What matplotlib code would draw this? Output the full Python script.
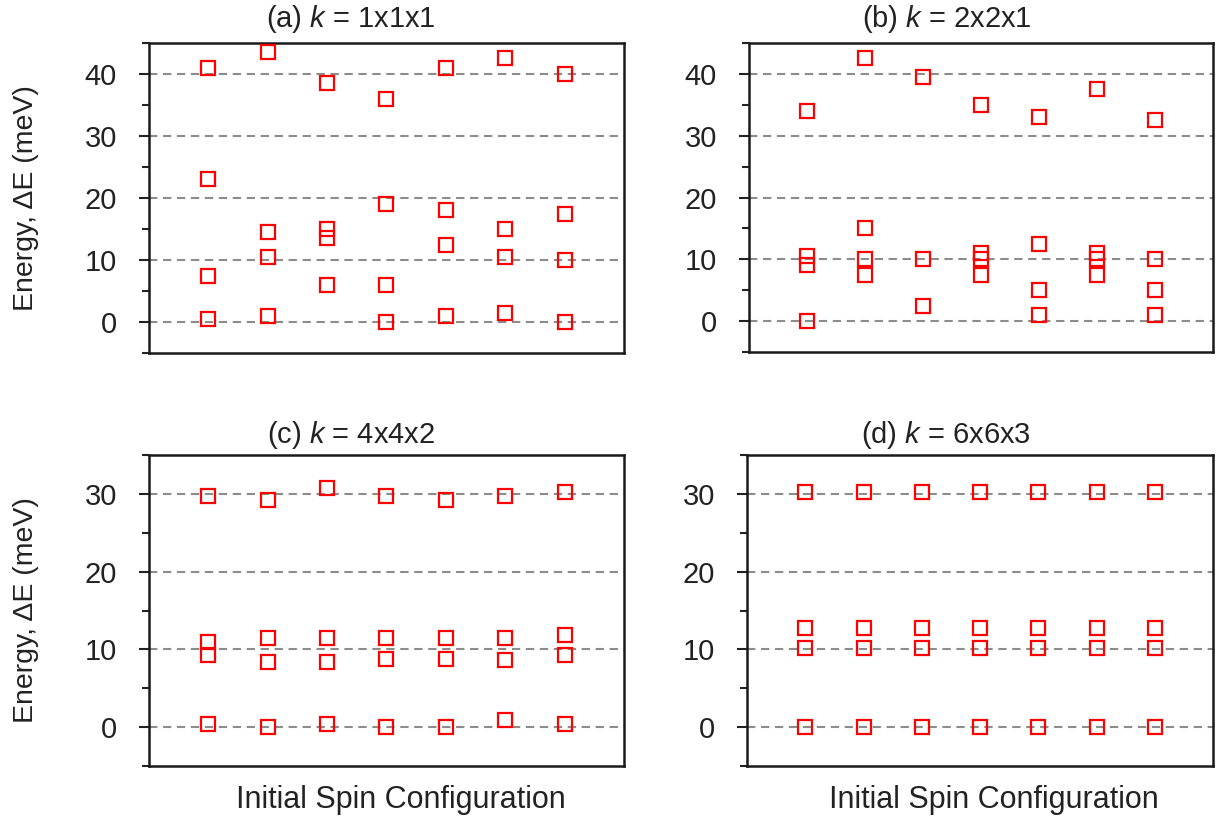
import numpy as np
import matplotlib
matplotlib.use("Agg")
import matplotlib.pyplot as plt
from matplotlib.ticker import MultipleLocator

plt.rcParams['font.family'] = ['Liberation Sans', 'DejaVu Sans']
plt.rcParams['mathtext.fontset'] = 'custom'
plt.rcParams['mathtext.rm'] = 'Liberation Sans'
plt.rcParams['mathtext.it'] = 'Liberation Sans:italic'

# initial spin configurations 1..7
configs = [1, 2, 3, 4, 5, 6, 7]

# energies (meV) for each configuration, one list per k-mesh
energy_k111 = [
    [41.0, 23.0, 7.5, 0.5],
    [43.5, 14.5, 10.5, 1.0],
    [38.5, 15.0, 13.5, 6.0],
    [36.0, 19.0, 6.0, 0.0],
    [41.0, 18.0, 12.5, 1.0],
    [42.5, 15.0, 10.5, 1.5],
    [40.0, 17.5, 10.0, 0.0],
]
energy_k221 = [
    [34.0, 10.5, 9.0, 0.0],
    [42.5, 15.0, 10.0, 7.5],
    [39.5, 10.0, 2.5],
    [35.0, 11.0, 10.0, 7.5],
    [33.0, 12.5, 5.0, 1.0],
    [37.5, 11.0, 10.0, 7.5],
    [32.5, 10.0, 5.0, 1.0],
]
energy_k442 = [
    [29.7, 11.0, 9.3, 0.4],
    [29.2, 11.4, 8.4, 0.0],
    [30.7, 11.4, 8.4, 0.4],
    [29.7, 11.4, 8.8, 0.0],
    [29.2, 11.4, 8.8, 0.0],
    [29.7, 11.5, 8.6, 0.9],
    [30.2, 11.9, 9.3, 0.4],
]
energy_k663 = [
    [30.2, 12.7, 10.2, 0.0],
    [30.2, 12.7, 10.2, 0.0],
    [30.2, 12.7, 10.2, 0.0],
    [30.2, 12.7, 10.2, 0.0],
    [30.2, 12.7, 10.2, 0.0],
    [30.2, 12.7, 10.2, 0.0],
    [30.2, 12.7, 10.2, 0.0],
]

titles = ['(a) $k$ = 1x1x1', '(b) $k$ = 2x2x1', '(c) $k$ = 4x4x2', '(d) $k$ = 6x6x3']
panels = [energy_k111, energy_k221, energy_k442, energy_k663]
ylims = [(-5, 45), (-5, 45), (-5, 35), (-5, 35)]

fig = plt.figure(figsize=(12.19, 8.25), dpi=100)
rects = [
    [0.1222, 0.5721, 0.3897, 0.3758],
    [0.6144, 0.5733, 0.3807, 0.3746],
    [0.1222, 0.0715, 0.3897, 0.3770],
    [0.6128, 0.0715, 0.3823, 0.3770],
]
title_y = [1.052, 1.052, 1.04, 1.04]

for i, (rect, data, title, yl) in enumerate(zip(rects, panels, titles, ylims)):
    ax = fig.add_axes(rect)
    for c, vals in zip(configs, data):
        ax.plot([c] * len(vals), vals, ls='none', marker='s', ms=9.5,
                mfc='none', mec='#ff0000', mew=1.6, zorder=3)
    ax.set_xlim(0, 8)
    ax.set_ylim(*yl)
    ax.set_xticks([])
    ax.yaxis.set_major_locator(MultipleLocator(10))
    ax.yaxis.set_minor_locator(MultipleLocator(5))
    ax.tick_params(axis='y', which='major', direction='out', length=7, width=1.5,
                   labelsize=21, pad=16, colors='#222222')
    ax.tick_params(axis='y', which='minor', direction='out', length=5, width=1.5,
                   colors='#222222')
    ax.yaxis.grid(True, which='major', color='#8c8c8c', lw=1.5,
                  ls=(0, (4, 2.7)), zorder=1)
    for s in ax.spines.values():
        s.set_linewidth(1.8)
        s.set_color('#1a1a1a')
    ax.text(0.426, title_y[i], title, transform=ax.transAxes, ha='center',
            va='baseline', fontsize=21, color='#222222')
    if i % 2 == 0:
        ax.set_ylabel('Energy, ΔE (meV)', fontsize=20.5, color='#222222')
        ax.yaxis.set_label_coords(-0.232, 0.5)
    if i >= 2:
        ax.set_xlabel('Initial Spin Configuration', fontsize=22, color='#222222')
        ax.xaxis.set_label_coords(0.53, -0.06)

fig.savefig('out.png', dpi=100)
